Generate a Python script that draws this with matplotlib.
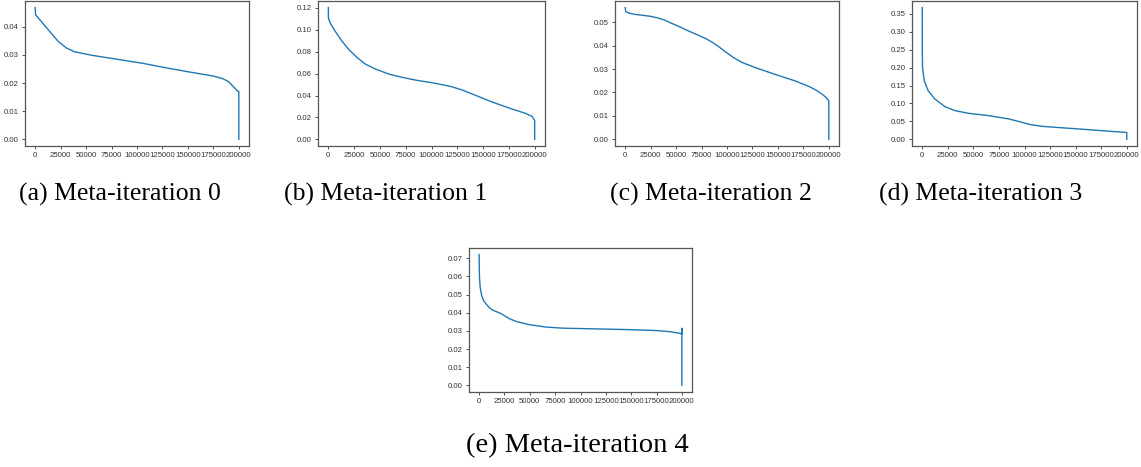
import matplotlib.pyplot as plt
from matplotlib.ticker import MultipleLocator, FormatStrFormatter

# ── data (sorted values per meta-iteration) ──────────────────────────────────
x_a = [0, 300, 5900, 14100, 22300, 30500, 38700, 55100, 81300, 105900, 125800,
       148800, 175000, 184000, 190000, 194700, 198700, 200000, 200000]
y_a = [0.0468, 0.0443, 0.0419, 0.0384, 0.0349, 0.0325, 0.0311, 0.0299, 0.0284,
       0.0270, 0.0256, 0.0241, 0.0225, 0.0216, 0.0205, 0.0187, 0.0172, 0.0170, 0.0]

x_b = [0, 100, 1700, 6600, 13200, 19700, 28000, 36100, 46000, 59100, 72200, 85300,
       102000, 118000, 130000, 142000, 158000, 177700, 190800, 197400, 199400,
       200000, 200000]
y_b = [0.1203, 0.1110, 0.1064, 0.0988, 0.0897, 0.0822, 0.0746, 0.0686, 0.0641,
       0.0595, 0.0565, 0.0540, 0.0515, 0.0485, 0.0450, 0.0405, 0.0344, 0.0278,
       0.0239, 0.0210, 0.0180, 0.0172, 0.0]

x_c = [0, 500, 4000, 9800, 24600, 32000, 38000, 44000, 52000, 62300, 72000, 80000,
       86000, 92000, 98000, 106000, 114800, 127900, 147500, 167200, 180300,
       188000, 193400, 197000, 199000, 200000, 200000]
y_c = [0.0562, 0.0545, 0.0538, 0.0533, 0.0525, 0.0518, 0.0510, 0.0498, 0.0483,
       0.0462, 0.0444, 0.0428, 0.0413, 0.0395, 0.0375, 0.0350, 0.0328, 0.0306,
       0.0277, 0.0249, 0.0226, 0.0209, 0.0193, 0.0180, 0.0170, 0.0165, 0.0]

x_d = [0, 100, 300, 2000, 5900, 12400, 22200, 32000, 45100, 64700, 84300, 95000,
       105500, 117000, 129700, 155900, 182000, 199000, 200000, 200000]
y_d = [0.367, 0.246, 0.200, 0.163, 0.135, 0.1125, 0.0912, 0.0801, 0.0727, 0.0663,
       0.0572, 0.0495, 0.0414, 0.0365, 0.0338, 0.0285, 0.0230, 0.0195, 0.0190, 0.0]

x_e = [0, 300, 1000, 2500, 4500, 6900, 10000, 13500, 17500, 21700, 26000, 30000,
       36600, 49700, 66200, 82700, 115600, 148500, 174900, 188000, 198600, 199800,
       200000, 200000]
y_e = [0.0720, 0.0600, 0.0540, 0.0495, 0.0465, 0.0448, 0.0428, 0.0414, 0.0405,
       0.0395, 0.0380, 0.0367, 0.0352, 0.0334, 0.0321, 0.0315, 0.0311, 0.0307,
       0.0302, 0.0296, 0.0286, 0.0281, 0.0315, 0.0]

captions = ["(a) Meta-iteration 0", "(b) Meta-iteration 1", "(c) Meta-iteration 2",
            "(d) Meta-iteration 3", "(e) Meta-iteration 4"]

# ── layout (pixels in a 1141x467 canvas) ─────────────────────────────────────
W, H = 1141, 467
boxes = [(25, 1, 224, 145), (318, 1, 227, 145), (615, 1, 224, 145),
         (912, 1, 225, 145), (469, 248, 223, 144)]
cap_pos = [(120, 194), (386, 194), (711, 194), (981, 194), (577, 446)]
cap_size = [18.5, 18.5, 18.5, 18.5, 20.5]
y_steps = [0.01, 0.02, 0.01, 0.05, 0.01]
series = [(x_a, y_a), (x_b, y_b), (x_c, y_c), (x_d, y_d), (x_e, y_e)]

fig = plt.figure(figsize=(W / 100, H / 100), dpi=100)

for i, ((l, t, w, h), (xs, ys)) in enumerate(zip(boxes, series)):
    ax = fig.add_axes([l / W, 1 - (t + h) / H, w / W, h / H])
    ax.plot(xs, ys, color="#1f77b4", linewidth=1.0)
    ax.set_xticks([0, 25000, 50000, 75000, 100000, 125000, 150000, 175000, 200000])
    ax.yaxis.set_major_locator(MultipleLocator(y_steps[i]))
    ax.yaxis.set_major_formatter(FormatStrFormatter("%.2f"))
    ax.tick_params(labelsize=5.6, length=2.5, width=0.6, colors="#333333", pad=2)
    for lab in ax.get_xticklabels() + ax.get_yticklabels():
        lab.set_family("Liberation Sans")
    for s in ax.spines.values():
        s.set_color("#555555")
        s.set_linewidth(0.9)
    cx, cy = cap_pos[i]
    fig.text(cx / W, 1 - cy / H, captions[i], family="Liberation Serif",
             fontsize=cap_size[i], ha="center", va="center", color="black")

fig.savefig("out.png", dpi=100)
